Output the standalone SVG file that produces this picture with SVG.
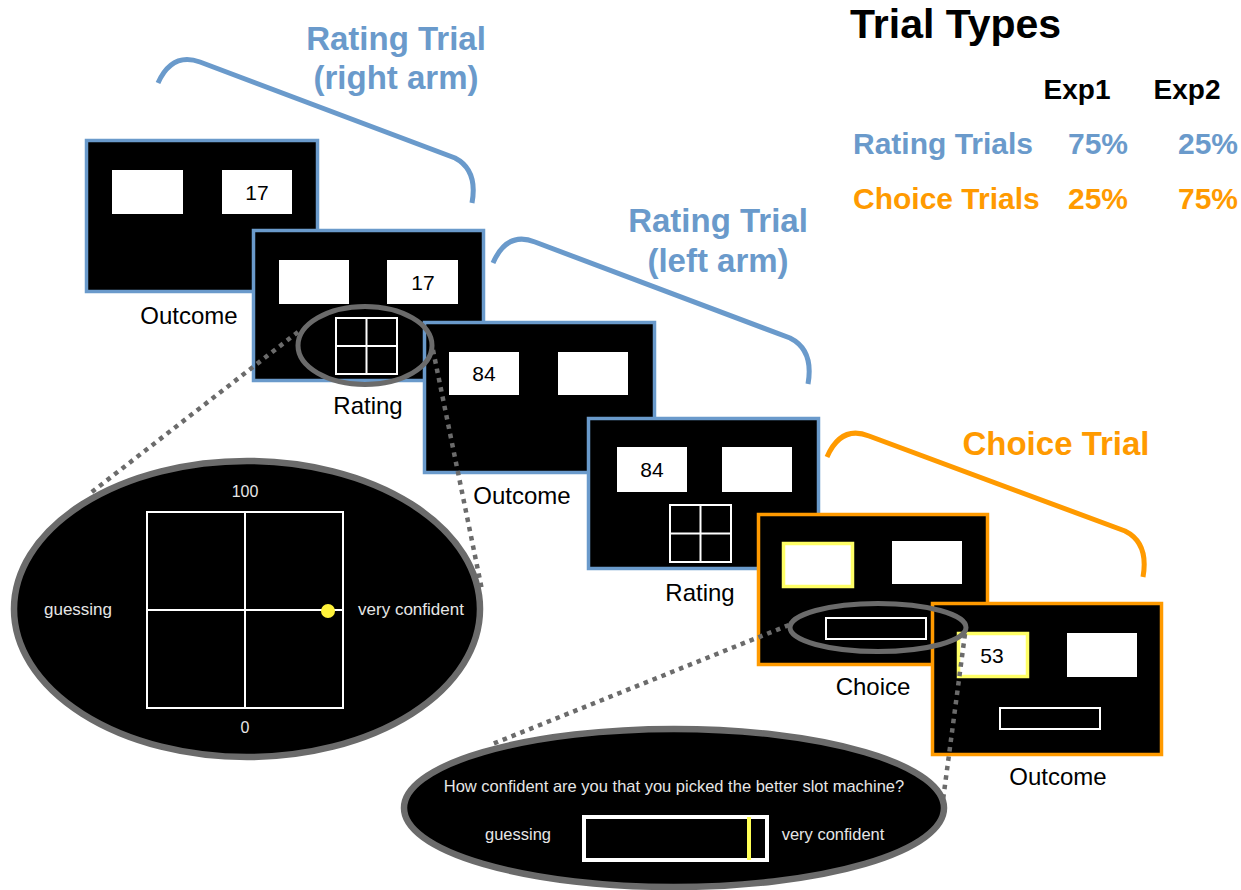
<svg xmlns="http://www.w3.org/2000/svg" width="1241" height="890" viewBox="0 0 1241 890">
<style>
.bg{fill:#fff}
.scrB{fill:#000;stroke:#6A9ACB;stroke-width:3.5}
.scrO{fill:#000;stroke:#FF9A00;stroke-width:3.5}
.box{fill:#fff}
.ybox{fill:#fff;stroke:#FFFF66;stroke-width:3.5}
.grid{fill:none;stroke:#fff;stroke-width:2}
.zoom{fill:none;stroke:#6B6B6B;stroke-width:5}
.big{fill:#000;stroke:#6B6B6B;stroke-width:6.5}
.num{font-family:"Liberation Sans",Arial,sans-serif;font-size:21px;fill:#000;text-anchor:middle}
.lbl{font-family:"Liberation Sans",Arial,sans-serif;font-size:24px;fill:#000;text-anchor:middle}
.title{font-family:"Liberation Sans",Arial,sans-serif;font-weight:bold;font-size:33px;text-anchor:middle}
.blue{fill:#6A9ACB}
.orange{fill:#FF9A00}
.tbl{font-family:"Liberation Sans",Arial,sans-serif;font-weight:bold;font-size:30px}
.scr{font-family:"Liberation Sans",Arial,sans-serif;font-size:16.5px;fill:#E6E6E6;text-anchor:middle}
.brB{fill:none;stroke:#6A9ACB;stroke-width:5;stroke-linecap:butt}
.brO{fill:none;stroke:#FF9A00;stroke-width:5;stroke-linecap:butt}
.dot{fill:none;stroke:#6B6B6B;stroke-width:4.5;stroke-dasharray:4.5 5}
</style>
<rect class="bg" x="0" y="0" width="1241" height="890"/>

<g id="trial-types">
<text x="850" y="38" font-family="Liberation Sans, Arial, sans-serif" font-weight="bold" font-size="41" fill="#000">Trial Types</text>
<text x="1077" y="99" class="tbl" fill="#000" text-anchor="middle" style="font-size:28px">Exp1</text>
<text x="1187" y="99" class="tbl" fill="#000" text-anchor="middle" style="font-size:28px">Exp2</text>
<text x="853" y="154" class="tbl blue">Rating Trials</text>
<text x="1098" y="154" class="tbl blue" text-anchor="middle">75%</text>
<text x="1208" y="154" class="tbl blue" text-anchor="middle">25%</text>
<text x="853" y="209" class="tbl orange">Choice Trials</text>
<text x="1098" y="209" class="tbl orange" text-anchor="middle">25%</text>
<text x="1208" y="209" class="tbl orange" text-anchor="middle">75%</text>
</g>

<g id="title-right-arm">
<text x="396" y="50" class="title blue">Rating Trial</text>
<text x="396" y="89" class="title blue">(right arm)</text>
</g>
<g id="title-left-arm">
<text x="718" y="232" class="title blue">Rating Trial</text>
<text x="718" y="272" class="title blue">(left arm)</text>
</g>
<g id="title-choice">
<text x="1056" y="455" class="title orange">Choice Trial</text>
</g>

<g id="screen1-outcome">
<rect class="scrB" x="86.5" y="140.5" width="231" height="151"/>
<rect class="box" x="112" y="170" width="71" height="44"/>
<rect class="box" x="222" y="170" width="70" height="44"/>
<text x="257" y="200" class="num">17</text>
<text x="189" y="324" class="lbl">Outcome</text>
</g>

<g id="screen2-rating">
<rect class="scrB" x="253.5" y="230.5" width="230" height="150"/>
<rect class="box" x="279" y="260" width="70" height="44"/>
<rect class="box" x="387" y="260" width="71" height="44"/>
<text x="423" y="290" class="num">17</text>
<rect class="grid" x="336" y="318" width="61" height="56"/>
<line class="grid" x1="366.5" y1="318" x2="366.5" y2="374"/>
<line class="grid" x1="336" y1="346" x2="397" y2="346"/>
<text x="368" y="414" class="lbl">Rating</text>
</g>

<g id="screen3-outcome">
<rect class="scrB" x="424.5" y="322.5" width="230" height="150"/>
<rect class="box" x="449" y="352" width="70" height="43"/>
<rect class="box" x="558" y="352" width="70" height="43"/>
<text x="484" y="381" class="num">84</text>
<text x="522" y="504" class="lbl">Outcome</text>
</g>

<g id="zoom-rating-small">
<ellipse class="zoom" cx="365" cy="345.5" rx="67" ry="39"/>
</g>

<g id="screen4-rating">
<rect class="scrB" x="588.5" y="418.5" width="230" height="150"/>
<rect class="box" x="617" y="447" width="70" height="45"/>
<rect class="box" x="722" y="447" width="70" height="45"/>
<text x="652" y="477" class="num">84</text>
<rect class="grid" x="670" y="505" width="61" height="57"/>
<line class="grid" x1="700.5" y1="505" x2="700.5" y2="562"/>
<line class="grid" x1="670" y1="533.5" x2="731" y2="533.5"/>
<text x="700" y="601" class="lbl">Rating</text>
</g>

<g id="screen5-choice">
<rect class="scrO" x="758.5" y="514.5" width="229" height="150"/>
<rect class="ybox" x="783.5" y="543.5" width="69" height="43"/>
<rect class="box" x="892" y="541" width="70" height="43"/>
<rect class="grid" x="826" y="618" width="100" height="21"/>
<text x="873" y="695" class="lbl">Choice</text>
</g>

<g id="screen6-outcome">
<rect class="scrO" x="932.5" y="603.5" width="229" height="151"/>
<rect class="ybox" x="958.5" y="633.5" width="69" height="43"/>
<rect class="box" x="1067" y="633" width="70" height="44"/>
<rect class="grid" x="1000" y="708" width="100" height="21"/>
<text x="992" y="663" class="num">53</text>
<text x="1058" y="785" class="lbl">Outcome</text>
</g>

<g id="zoom-choice-small">
<ellipse class="zoom" cx="878" cy="627.5" rx="88" ry="24"/>
</g>

<g id="rating-scale-zoom">
<ellipse class="big" cx="247" cy="609" rx="233" ry="148"/>
<rect class="grid" x="147" y="512" width="196" height="196"/>
<line class="grid" x1="245" y1="512" x2="245" y2="708"/>
<line class="grid" x1="147" y1="610" x2="343" y2="610"/>
<circle cx="328" cy="611" r="7" fill="#FFF23A"/>
<text x="245" y="497" class="scr" style="font-size:16px">100</text>
<text x="245" y="733" class="scr" style="font-size:16px">0</text>
<text x="78" y="615" class="scr" style="font-size:17px">guessing</text>
<text x="411" y="615" class="scr" style="font-size:17px">very confident</text>
</g>

<g id="choice-scale-zoom">
<ellipse class="big" cx="674" cy="808" rx="270" ry="79"/>
<text x="674" y="792" class="scr">How confident are you that you picked the better slot machine?</text>
<rect x="584" y="817" width="183" height="43" fill="none" stroke="#fff" stroke-width="4"/>
<line x1="749" y1="817" x2="749" y2="860" stroke="#FFFF55" stroke-width="4"/>
<text x="518" y="840" class="scr">guessing</text>
<text x="833" y="840" class="scr">very confident</text>
</g>

<g id="connectors">
<path class="brB" d="M158,83 Q172,52 200,62 L455,158 Q478,170 472,203"/>
<path class="brB" d="M493,263 Q507,231 535,242 L790,338 Q814,350 808,384"/>
<path class="brO" d="M827,457 Q841,425 869,436 L1125,531 Q1149,543 1143,577"/>
<line class="dot" x1="298" y1="332" x2="88" y2="495"/>
<line class="dot" x1="433" y1="350" x2="482" y2="590"/>
<line class="dot" x1="789" y1="625" x2="490" y2="745"/>
<line class="dot" x1="965" y1="634" x2="943" y2="800"/>
</g>
</svg>
